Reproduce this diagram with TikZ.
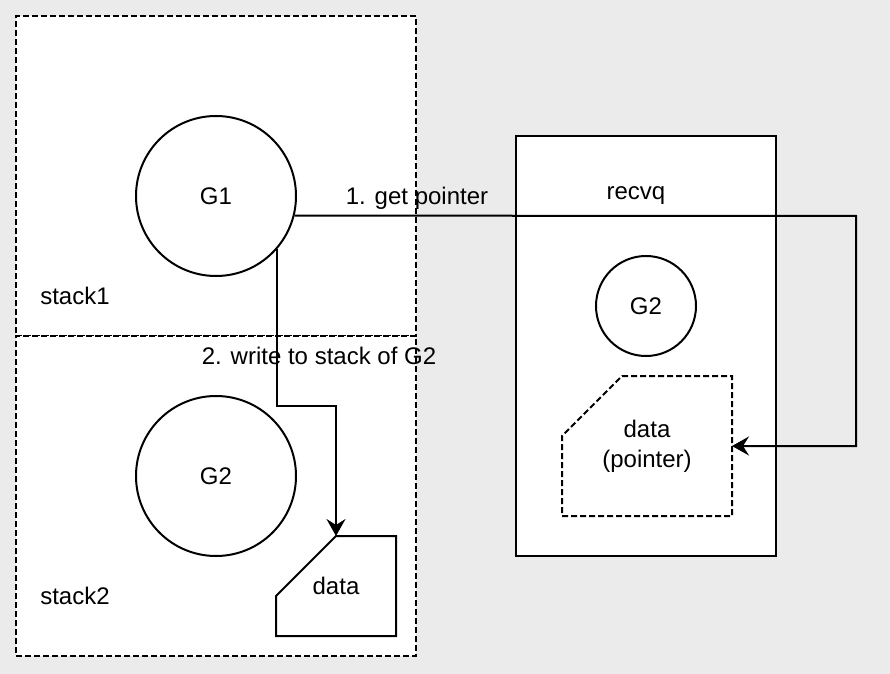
\documentclass[tikz,border=0pt]{standalone}
\usepackage{fontspec}
\setmainfont{Liberation Sans}
\usepackage{xcolor}
\usetikzlibrary{arrows.meta}

\definecolor{canvas}{RGB}{235,235,235}

\tikzset{
  stackbox/.style={draw, fill=white, dash pattern=on 3pt off 1.5pt, minimum width=200pt, minimum height=160pt, inner sep=0pt},
  queuebox/.style={draw, fill=white, minimum width=130pt, minimum height=210pt, inner sep=0pt},
  goro/.style={draw, circle, fill=white, minimum size=#1, inner sep=0pt},
  card/.style={minimum width=#1, inner sep=0pt, outer sep=0pt, align=center},
  tip/.style={-{Stealth[length=8.5pt, width=9.5pt, inset=3pt]}},
}

\begin{document}
\begin{tikzpicture}[x=0.5pt, y=-0.5pt, line width=1pt, font=\fontsize{12}{15}\selectfont]
  % Draw the background
  \fill[canvas] (0,0) rectangle (890,674);
  \useasboundingbox (0,0) rectangle (890,674);

  % Draw the two stacks
  \node[stackbox] (stack1) at (216,176) {};
  \node[stackbox] (stack2) at (216,496) {};
  \node (stack1label) at (75,296) {stack1};
  \node (stack2label) at (75,596) {stack2};

  % Draw the goroutines on the stacks
  \node[goro=80pt] (g1) at (216,196) {G1};
  \node[goro=80pt] (g2) at (216,476) {G2};

  % Fill in the data card on stack2
  \node[card=60pt, minimum height=50pt] (data) at (336,586) {};
  \draw[fill=white] (data.south west) -- (data.south east) -- (data.north east)
    -- ([xshift=30pt]data.north west) -- ([yshift=-30pt]data.north west) -- cycle;
  \node at (data) {data};

  % Draw the recvq with its waiting goroutine
  \node[queuebox] (recvq) at (646,346) {};
  \node (recvqlabel) at (636,196) {recvq};
  \node[goro=50pt] (g2wait) at (646,306) {G2};

  \node[card=85pt, minimum height=70pt] (ptr) at (647,446) {};
  \draw[fill=white, dash pattern=on 3pt off 1.5pt] (ptr.south west) -- (ptr.south east) -- (ptr.north east)
    -- ([xshift=30pt]ptr.north west) -- ([yshift=-30pt]ptr.north west) -- cycle;
  \node[align=center] at (ptr) {data\\(pointer)};

  % Connectors
  \coordinate (turn1) at (856,216);
  \coordinate (turn2) at (336,406);
  \draw[tip] (g1.-14.5) -- (turn1) |- (ptr.east);
  \draw[tip] (g1.-41.4) |- (turn2) -- (data.north);

  \node (step1) at (417,198) {1. get pointer};
  \node (step2) at (319,356) {2. write to stack of G2};
\end{tikzpicture}
\end{document}
